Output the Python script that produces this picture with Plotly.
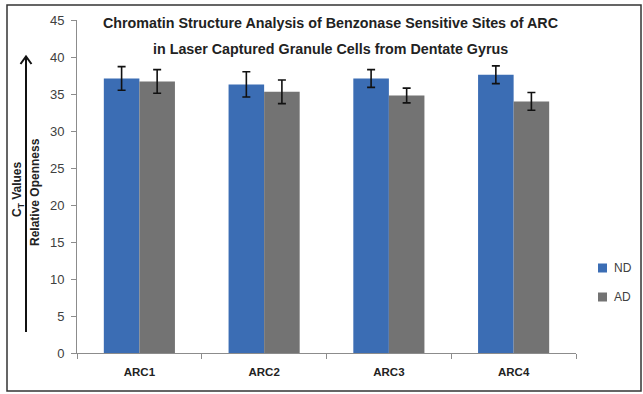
import plotly.graph_objects as go

categories = ["ARC1", "ARC2", "ARC3", "ARC4"]
series_names = ["ND", "AD"]
nd_values = [37.1, 36.3, 37.1, 37.6]
ad_values = [36.7, 35.3, 34.8, 34.0]
nd_errors = [1.6, 1.7, 1.2, 1.2]
ad_errors = [1.6, 1.6, 1.0, 1.2]
y_ticks = [0, 5, 10, 15, 20, 25, 30, 35, 40, 45]

title_lines = ["Chromatin Structure Analysis of Benzonase Sensitive Sites of ARC",
               "in Laser Captured Granule Cells from Dentate Gyrus"]

BLUE = "#3B6DB4"
GREY = "#737373"
W, H = 643, 394
L, R, T, B = 77, 576, 20, 353  # plot area in pixels


def px(x):
    return (x - L) / (R - L)


def py(y):
    return (B - y) / (B - T)


fig = go.Figure()
for name, vals, errs, col in [(series_names[0], nd_values, nd_errors, BLUE),
                              (series_names[1], ad_values, ad_errors, GREY)]:
    fig.add_trace(go.Bar(
        x=categories, y=vals, name=name, marker=dict(color=col, line=dict(width=0)),
        error_y=dict(type="data", array=errs, visible=True, color="#111111",
                     thickness=1.6, width=4),
        showlegend=False,
    ))

font_main = "Liberation Sans, Arial, sans-serif"

fig.update_layout(
    width=W, height=H,
    margin=dict(l=L, r=W - R, t=T, b=H - B, pad=0),
    paper_bgcolor="white", plot_bgcolor="white",
    barmode="group", bargap=0.43, bargroupgap=0,
    font=dict(family=font_main, color="#404040", size=13),
    xaxis=dict(showline=True, linecolor="#8C8C8C", linewidth=1,
               ticks="outside", ticklen=5, tickcolor="#8C8C8C",
               tickson="boundaries", showgrid=False,
               tickfont=dict(size=11.5, color="#222222", family=font_main),
               ticklabelstandoff=8),
    yaxis=dict(range=[0, 45], tickvals=y_ticks, showline=True, linecolor="#8C8C8C",
               linewidth=1, ticks="outside", ticklen=5, tickcolor="#8C8C8C",
               showgrid=False, zeroline=False,
               tickfont=dict(size=13, color="#404040"), ticklabelstandoff=4),
)

# bold category labels
fig.update_xaxes(ticktext=[f"<b>{c}</b>" for c in categories], tickvals=categories)

# title
for i, line in enumerate(title_lines):
    fig.add_annotation(xref="paper", yref="paper", x=px(330), y=py(23 + i * 26),
                       showarrow=False, text="<b>" + line + "</b>",
                       xanchor="center", yanchor="middle",
                       font=dict(size=14.3, color="#222222", family=font_main))

# y-axis title: two rotated lines + arrow
fig.add_annotation(xref="paper", yref="paper", x=px(18), y=py(190), showarrow=False,
                   text="<b>C<sub>T</sub> Values</b>", textangle=-90,
                   xanchor="center", yanchor="middle",
                   font=dict(size=12, color="#222222", family=font_main))
fig.add_annotation(xref="paper", yref="paper", x=px(35), y=py(192), showarrow=False,
                   text="<b>Relative Openness</b>", textangle=-90,
                   xanchor="center", yanchor="middle",
                   font=dict(size=12, color="#222222", family=font_main))
fig.add_shape(type="line", xref="paper", yref="paper",
              x0=px(26), x1=px(26), y0=py(332), y1=py(57),
              line=dict(color="#111111", width=2))
fig.add_shape(type="path", xref="paper", yref="paper",
              path=f"M {px(20.5)},{py(64)} L {px(26)},{py(56.5)} L {px(31.5)},{py(64)}",
              line=dict(color="#111111", width=2))

# legend (manual)
for i, (name, col) in enumerate([(series_names[0], BLUE), (series_names[1], GREY)]):
    yc = 268 + i * 29
    fig.add_shape(type="rect", xref="paper", yref="paper",
                  x0=px(598), x1=px(607), y0=py(yc - 4.5), y1=py(yc + 4.5),
                  fillcolor=col, line=dict(width=0))
    fig.add_annotation(xref="paper", yref="paper", x=px(612), y=py(yc), showarrow=False,
                       text=name, xanchor="left", yanchor="middle",
                       font=dict(size=12, color="#404040", family=font_main))

# outer border
fig.add_shape(type="rect", xref="paper", yref="paper",
              x0=px(7), x1=px(641), y0=py(391), y1=py(5),
              line=dict(color="#333333", width=1.5), fillcolor="rgba(0,0,0,0)", layer="below")

fig.write_html("out.html", config={"displayModeBar": False},
               post_script="document.body.style.margin='0';document.body.style.overflow='hidden';")
